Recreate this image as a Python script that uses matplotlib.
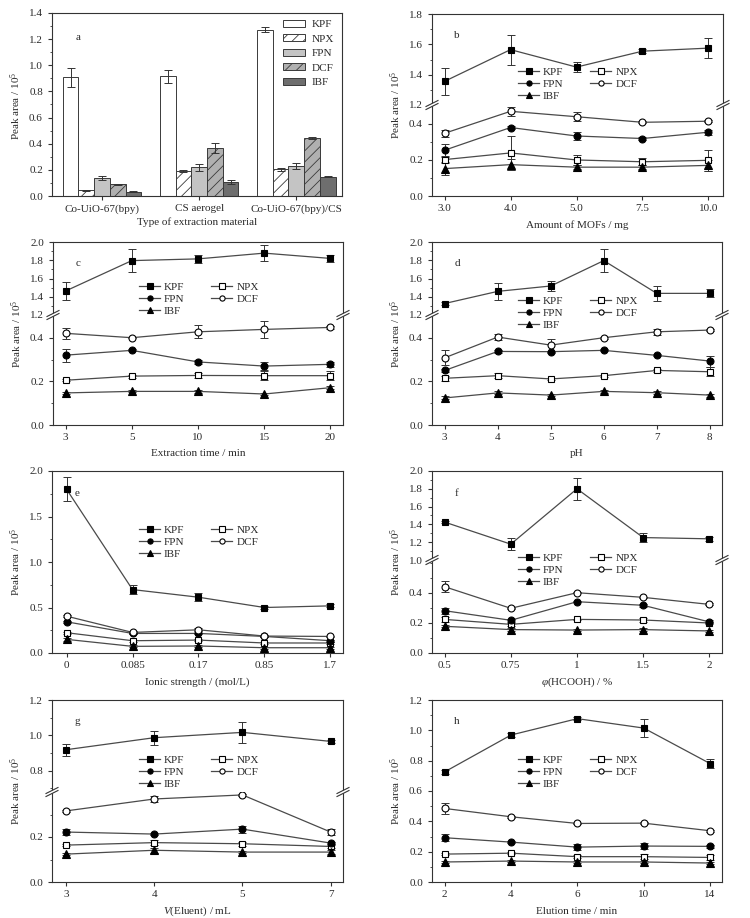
import matplotlib
matplotlib.use('Agg')
import matplotlib.pyplot as plt
from matplotlib.ticker import MultipleLocator, FixedLocator
from matplotlib.lines import Line2D
from matplotlib.patches import Polygon
import numpy as np

plt.rcParams['font.family'] = ['Liberation Serif', 'DejaVu Serif']
plt.rcParams['font.size'] = 8
plt.rcParams['mathtext.fontset'] = 'custom'
plt.rcParams['mathtext.rm'] = 'Liberation Serif'
plt.rcParams['mathtext.it'] = 'Liberation Serif:italic'
plt.rcParams['hatch.linewidth'] = 0.6

names = ['KPF', 'NPX', 'FPN', 'DCF', 'IBF']

# (a) extraction material
a_groups = ['Co-UiO-67(bpy)', 'CS aerogel', 'Co-UiO-67(bpy)/CS']
a_kpf = [0.907, 0.915, 1.272]
a_npx = [0.043, 0.190, 0.204]
a_fpn = [0.135, 0.220, 0.230]
a_dcf = [0.089, 0.370, 0.442]
a_ibf = [0.033, 0.107, 0.148]
a_kpf_err = [0.073, 0.048, 0.020]
a_npx_err = [0.002, 0.010, 0.012]
a_fpn_err = [0.015, 0.025, 0.020]
a_dcf_err = [0.005, 0.038, 0.006]
a_ibf_err = [0.003, 0.015, 0.005]

# (b) amount of MOFs
b_x = ['3.0', '4.0', '5.0', '7.5', '10.0']
b_kpf = [1.356, 1.565, 1.450, 1.555, 1.575]
b_npx = [0.202, 0.239, 0.200, 0.190, 0.198]
b_fpn = [0.254, 0.380, 0.333, 0.319, 0.354]
b_dcf = [0.348, 0.470, 0.440, 0.409, 0.415]
b_ibf = [0.152, 0.174, 0.160, 0.160, 0.170]
b_kpf_err = [0.088, 0.098, 0.035, 0.015, 0.064]
b_npx_err = [0.020, 0.095, 0.030, 0.020, 0.060]
b_fpn_err = [0.035, 0.008, 0.020, 0.010, 0.015]
b_dcf_err = [0.020, 0.025, 0.025, 0.005, 0.005]
b_ibf_err = [0.035, 0.030, 0.010, 0.010, 0.030]

# (c) extraction time
c_x = ['3', '5', '10', '15', '20']
c_kpf = [1.463, 1.796, 1.815, 1.878, 1.820]
c_npx = [0.205, 0.224, 0.227, 0.226, 0.226]
c_fpn = [0.320, 0.342, 0.289, 0.270, 0.278]
c_dcf = [0.420, 0.400, 0.427, 0.438, 0.447]
c_ibf = [0.147, 0.154, 0.154, 0.142, 0.171]
c_kpf_err = [0.100, 0.125, 0.045, 0.090, 0.035]
c_npx_err = [0.005, 0.007, 0.010, 0.020, 0.020]
c_fpn_err = [0.030, 0.005, 0.008, 0.020, 0.012]
c_dcf_err = [0.025, 0.003, 0.030, 0.040, 0.005]
c_ibf_err = [0.005, 0.005, 0.006, 0.005, 0.008]

# (d) pH
d_x = ['3', '4', '5', '6', '7', '8']
d_kpf = [1.326, 1.459, 1.518, 1.796, 1.437, 1.437]
d_npx = [0.214, 0.226, 0.211, 0.226, 0.250, 0.244]
d_fpn = [0.250, 0.337, 0.336, 0.342, 0.319, 0.293]
d_dcf = [0.308, 0.403, 0.366, 0.400, 0.427, 0.435]
d_ibf = [0.124, 0.147, 0.137, 0.154, 0.148, 0.137]
d_kpf_err = [0.015, 0.090, 0.060, 0.125, 0.080, 0.045]
d_npx_err = [0.012, 0.010, 0.005, 0.005, 0.005, 0.020]
d_fpn_err = [0.005, 0.008, 0.005, 0.005, 0.005, 0.025]
d_dcf_err = [0.035, 0.015, 0.030, 0.005, 0.015, 0.005]
d_ibf_err = [0.007, 0.007, 0.006, 0.008, 0.007, 0.007]

# (e) ionic strength
e_x = ['0', '0.085', '0.17', '0.85', '1.7']
e_kpf = [1.800, 0.697, 0.613, 0.500, 0.518]
e_npx = [0.223, 0.135, 0.142, 0.110, 0.110]
e_fpn = [0.343, 0.215, 0.215, 0.182, 0.135]
e_dcf = [0.405, 0.226, 0.255, 0.186, 0.182]
e_ibf = [0.150, 0.073, 0.077, 0.058, 0.058]
e_kpf_err = [0.130, 0.050, 0.045, 0.015, 0.015]
e_npx_err = [0.010, 0.010, 0.010, 0.010, 0.010]
e_fpn_err = [0.012, 0.010, 0.010, 0.010, 0.010]
e_dcf_err = [0.010, 0.012, 0.015, 0.010, 0.010]
e_ibf_err = [0.020, 0.010, 0.010, 0.010, 0.010]

# (f) formic acid
f_x = ['0.5', '0.75', '1', '1.5', '2']
f_kpf = [1.426, 1.178, 1.800, 1.252, 1.238]
f_npx = [0.224, 0.191, 0.224, 0.220, 0.200]
f_fpn = [0.282, 0.218, 0.342, 0.318, 0.207]
f_dcf = [0.442, 0.298, 0.402, 0.371, 0.324]
f_ibf = [0.178, 0.156, 0.153, 0.156, 0.147]
f_kpf_err = [0.015, 0.070, 0.125, 0.050, 0.025]
f_npx_err = [0.015, 0.010, 0.005, 0.012, 0.005]
f_fpn_err = [0.020, 0.008, 0.005, 0.008, 0.010]
f_dcf_err = [0.035, 0.005, 0.005, 0.005, 0.007]
f_ibf_err = [0.007, 0.008, 0.005, 0.008, 0.008]

# (g) eluent volume
g_x = ['3', '4', '5', '7']
g_kpf = [0.919, 0.987, 1.017, 0.966]
g_npx = [0.164, 0.175, 0.170, 0.158]
g_fpn = [0.222, 0.213, 0.235, 0.173]
g_dcf = [0.316, 0.369, 0.387, 0.222]
g_ibf = [0.124, 0.141, 0.133, 0.133]
g_kpf_err = [0.035, 0.040, 0.060, 0.008]
g_npx_err = [0.005, 0.012, 0.010, 0.005]
g_fpn_err = [0.012, 0.005, 0.015, 0.006]
g_dcf_err = [0.005, 0.014, 0.005, 0.012]
g_ibf_err = [0.006, 0.010, 0.005, 0.008]

# (h) elution time
h_x = ['2', '4', '6', '10', '14']
h_kpf = [0.726, 0.969, 1.077, 1.015, 0.781]
h_npx = [0.184, 0.190, 0.167, 0.167, 0.162]
h_fpn = [0.292, 0.263, 0.230, 0.237, 0.235]
h_dcf = [0.485, 0.430, 0.386, 0.388, 0.338]
h_ibf = [0.132, 0.138, 0.132, 0.132, 0.125]
h_kpf_err = [0.015, 0.015, 0.010, 0.060, 0.030]
h_npx_err = [0.005, 0.005, 0.008, 0.015, 0.015]
h_fpn_err = [0.022, 0.008, 0.018, 0.018, 0.008]
h_dcf_err = [0.035, 0.005, 0.005, 0.005, 0.008]
h_ibf_err = [0.005, 0.005, 0.005, 0.008, 0.008]

W, H = 750, 918
fig = plt.figure(figsize=(W / 100, H / 100), dpi=100)
INK = '#2a2a2a'
ylab = 'Peak area / 10$^5$'


def add_ax(x0, x1, y0, y1):
    return fig.add_axes([x0 / W, 1 - y1 / H, (x1 - x0) / W, (y1 - y0) / H])


def style(ax, bottom=True, top=True):
    for s in ax.spines.values():
        s.set_linewidth(0.8)
        s.set_color('#333333')
    ax.spines['bottom'].set_visible(bottom)
    ax.spines['top'].set_visible(top)
    ax.tick_params(which='major', direction='out', length=3, width=0.8,
                   colors='#333333', labelcolor=INK, right=False, top=False)
    ax.tick_params(which='minor', direction='out', length=1.6, width=0.6,
                   colors='#333333', right=False, top=False)
    ax.tick_params(axis='y', pad=3.5)
    ax.tick_params(axis='x', pad=3)
    ax.set_facecolor('none')


def ftext(x, y, s, **kw):
    fig.text(x / W, 1 - y / H, s, color=INK, **kw)


def break_marks(x0, x1, yb):
    # little "//" marks where the y axis is broken
    for x in (x0, x1):
        gap = Polygon([((x - 6) / W, 1 - (yb + 1.5) / H), ((x + 6) / W, 1 - (yb - 4.5) / H),
                       ((x + 6) / W, 1 - (yb - 1.5) / H), ((x - 6) / W, 1 - (yb + 4.5) / H)],
                      closed=True, transform=fig.transFigure, facecolor='white',
                      edgecolor='none', zorder=10)
        fig.patches.append(gap)
        for d in (-1.5, 1.5):
            fig.lines.append(Line2D([(x - 6) / W, (x + 6) / W],
                                    [1 - (yb + d + 3) / H, 1 - (yb + d - 3) / H],
                                    transform=fig.transFigure, color='#333333',
                                    lw=0.8, zorder=11))


styles = {
    'KPF': dict(marker='s', mfc='black'),
    'NPX': dict(marker='s', mfc='white'),
    'FPN': dict(marker='o', mfc='black'),
    'DCF': dict(marker='o', mfc='white'),
    'IBF': dict(marker='^', mfc='black'),
}


def line_panel(box, xlabels, vals, errs, xlabel, letter, legend_at, xpad,
               major, minor, split=None, ylim=None):
    x0, x1, y0, y1 = box
    xs = np.arange(len(xlabels))
    if split is None:
        ax = add_ax(x0, x1, y0, y1)
        style(ax)
        ax.set_ylim(*ylim)
        ax.yaxis.set_major_locator(MultipleLocator(major))
        ax.yaxis.set_minor_locator(MultipleLocator(minor))
        axes = [ax]
        bottom_ax = ax
    else:
        yb, up, low, up_ticks, low_ticks = split
        top_ax = add_ax(x0, x1, y0, yb)
        bottom_ax = add_ax(x0, x1, yb, y1)
        style(top_ax, bottom=False)
        style(bottom_ax, top=False)
        top_ax.set_ylim(*up)
        bottom_ax.set_ylim(*low)
        top_ax.yaxis.set_major_locator(FixedLocator(up_ticks))
        bottom_ax.yaxis.set_major_locator(FixedLocator(low_ticks))
        top_ax.yaxis.set_minor_locator(MultipleLocator(minor))
        bottom_ax.yaxis.set_minor_locator(MultipleLocator(minor))
        top_ax.tick_params(which='both', bottom=False, labelbottom=False)
        axes = [top_ax, bottom_ax]
        break_marks(x0, x1, yb)
    handles = {}
    for ax in axes:
        ax.set_xlim(-xpad[0], len(xlabels) - 1 + xpad[1])
        for n in names:
            v = np.array(vals[n])
            e = np.array(errs[n])
            ln, = ax.plot(xs, v, color='#4a4a4a', lw=0.9, mec='black', mew=0.8,
                          ms=5 if styles[n]['marker'] != '^' else 5.5, zorder=3,
                          **styles[n])
            ax.errorbar(xs, v, yerr=e, fmt='none', ecolor='#333333', elinewidth=0.7,
                        capsize=3, capthick=0.7, zorder=2)
            handles[n] = ln
    bottom_ax.set_xticks(xs)
    bottom_ax.set_xticklabels(xlabels)
    ftext(x0 - 36, (y0 + y1) / 2, ylab, rotation=90, ha='center', va='center')
    ftext((x0 + x1) / 2, y1 + 29, xlabel, ha='center', va='center')
    ftext(x0 + 25, y0 + 22, letter, ha='center', va='center')
    order = ['KPF', 'FPN', 'IBF', 'NPX', 'DCF']
    fig.legend([handles[n] for n in order], order, ncol=2, loc='upper left',
               bbox_to_anchor=(legend_at[0] / W, 1 - legend_at[1] / H),
               frameon=False, handlelength=1.9, columnspacing=2.4,
               labelspacing=0.22, handletextpad=0.35, borderpad=0,
               borderaxespad=0, markerscale=0.75, labelcolor=INK)


def pack(k, n, p, d, i):
    return {'KPF': k, 'NPX': n, 'FPN': p, 'DCF': d, 'IBF': i}


# ---- panel a: bars
ax = add_ax(52, 342, 13, 196)
style(ax)
gx = np.arange(len(a_groups))
bw = 0.1615
bar_vals = [a_kpf, a_npx, a_fpn, a_dcf, a_ibf]
bar_errs = [a_kpf_err, a_npx_err, a_fpn_err, a_dcf_err, a_ibf_err]
bar_fc = ['white', 'white', '#c4c4c4', '#b0b0b0', '#6e6e6e']
bar_hatch = [None, '///', None, '///', None]
for k in range(5):
    ax.bar(gx + (k - 2) * bw, bar_vals[k], bw, yerr=bar_errs[k], color=bar_fc[k],
           hatch=bar_hatch[k], edgecolor='#3a3a3a', linewidth=0.7, label=names[k],
           error_kw=dict(ecolor='#333333', elinewidth=0.7, capsize=3, capthick=0.7))
ax.set_xlim(-0.515, 2.47)
ax.set_ylim(0, 1.4)
ax.yaxis.set_major_locator(MultipleLocator(0.2))
ax.yaxis.set_minor_locator(MultipleLocator(0.1))
ax.set_xticks(gx)
ax.set_xticklabels(a_groups)
ftext(16, 106, ylab, rotation=90, ha='center', va='center')
ftext(197, 222, 'Type of extraction material', ha='center', va='center')
ftext(78, 37, 'a', ha='center', va='center')
ax.legend(loc='upper left', bbox_to_anchor=(283 / W, 1 - 20 / H),
          bbox_transform=fig.transFigure, frameon=False, handlelength=2.0,
          handleheight=0.6, labelspacing=0.45, handletextpad=0.6, borderpad=0,
          borderaxespad=0, labelcolor=INK)

# ---- line panels
line_panel((432, 723, 14, 196), b_x,
           pack(b_kpf, b_npx, b_fpn, b_dcf, b_ibf),
           pack(b_kpf_err, b_npx_err, b_fpn_err, b_dcf_err, b_ibf_err),
           'Amount of MOFs / mg', 'b', (518, 67), (0.19, 0.22), 0.2, 0.1,
           split=(105, (1.2, 1.8), (0, 0.505), [1.2, 1.4, 1.6, 1.8], [0, 0.2, 0.4]))

line_panel((53, 343, 242, 425), c_x,
           pack(c_kpf, c_npx, c_fpn, c_dcf, c_ibf),
           pack(c_kpf_err, c_npx_err, c_fpn_err, c_dcf_err, c_ibf_err),
           'Extraction time / min', 'c', (139, 282), (0.19, 0.19), 0.2, 0.1,
           split=(315, (1.2, 2.0), (0, 0.504), [1.2, 1.4, 1.6, 1.8, 2.0], [0, 0.2, 0.4]))

line_panel((432, 722, 242, 425), d_x,
           pack(d_kpf, d_npx, d_fpn, d_dcf, d_ibf),
           pack(d_kpf_err, d_npx_err, d_fpn_err, d_dcf_err, d_ibf_err),
           'pH', 'd', (518, 296), (0.24, 0.23), 0.2, 0.1,
           split=(315, (1.2, 2.0), (0, 0.504), [1.2, 1.4, 1.6, 1.8, 2.0], [0, 0.2, 0.4]))

line_panel((52, 343, 471, 653), e_x,
           pack(e_kpf, e_npx, e_fpn, e_dcf, e_ibf),
           pack(e_kpf_err, e_npx_err, e_fpn_err, e_dcf_err, e_ibf_err),
           'Ionic strength / (mol/L)', 'e', (139, 525), (0.22, 0.19), 0.5, 0.25,
           ylim=(0, 2.0))

line_panel((432, 722, 471, 653), f_x,
           pack(f_kpf, f_npx, f_fpn, f_dcf, f_ibf),
           pack(f_kpf_err, f_npx_err, f_fpn_err, f_dcf_err, f_ibf_err),
           r'$\varphi$(HCOOH) / %', 'f', (518, 553), (0.19, 0.19), 0.2, 0.1,
           split=(560, (1.0, 2.0), (0, 0.62), [1.0, 1.2, 1.4, 1.6, 1.8, 2.0], [0, 0.2, 0.4]))

line_panel((52, 343, 700, 882), g_x,
           pack(g_kpf, g_npx, g_fpn, g_dcf, g_ibf),
           pack(g_kpf_err, g_npx_err, g_fpn_err, g_dcf_err, g_ibf_err),
           r'$V$(Eluent) / mL', 'g', (139, 755), (0.16, 0.14), 0.2, 0.1,
           split=(792, (0.68, 1.2), (0, 0.4), [0.8, 1.0, 1.2], [0, 0.2]))

line_panel((432, 722, 700, 882), h_x,
           pack(h_kpf, h_npx, h_fpn, h_dcf, h_ibf),
           pack(h_kpf_err, h_npx_err, h_fpn_err, h_dcf_err, h_ibf_err),
           'Elution time / min', 'h', (518, 755), (0.19, 0.18), 0.2, 0.1,
           ylim=(0, 1.2))

fig.savefig('out.png', dpi=100)
